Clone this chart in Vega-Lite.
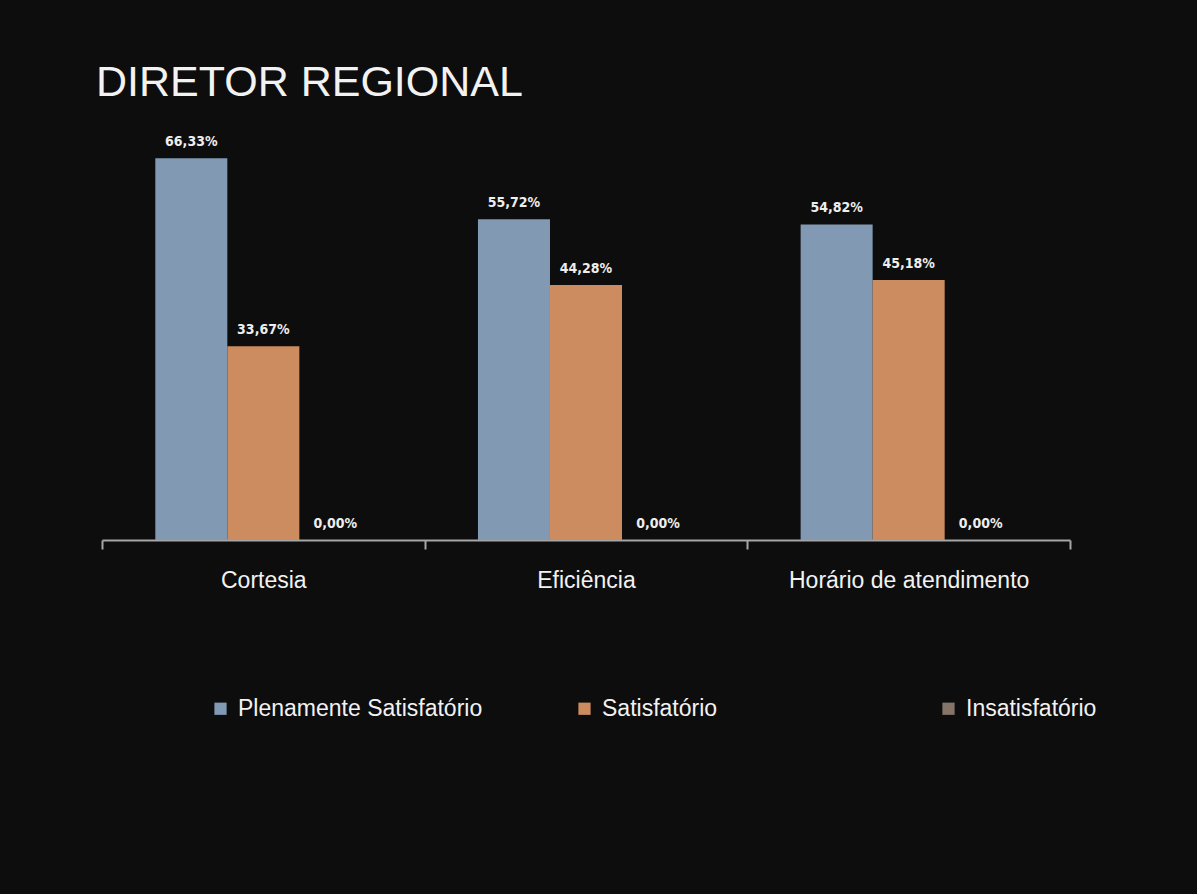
{
  "$schema": "https://vega.github.io/schema/vega-lite/v6.json",
  "background": "#0d0d0d",
  "padding": {"left": 96, "top": 62, "right": 127, "bottom": 173},
  "width": 968,
  "height": 403,
  "title": {
    "text": "DIRETOR REGIONAL",
    "anchor": "start",
    "font": "Liberation Sans",
    "fontSize": 43,
    "fontWeight": "normal",
    "color": "#f2f2f2",
    "dx": -5,
    "offset": 30
  },
  "config": {
    "locale": {"number": {"decimal": ",", "thousands": ".", "grouping": [3], "currency": ["R$", ""]}},
    "view": {"stroke": null},
    "font": "Liberation Sans"
  },
  "data": {
    "values": [
      {"categoria": "Cortesia", "nivel": "Plenamente Satisfatório", "valor": 0.6633},
      {"categoria": "Cortesia", "nivel": "Satisfatório", "valor": 0.3367},
      {"categoria": "Cortesia", "nivel": "Insatisfatório", "valor": 0.0},
      {"categoria": "Eficiência", "nivel": "Plenamente Satisfatório", "valor": 0.5572},
      {"categoria": "Eficiência", "nivel": "Satisfatório", "valor": 0.4428},
      {"categoria": "Eficiência", "nivel": "Insatisfatório", "valor": 0.0},
      {"categoria": "Horário de atendimento", "nivel": "Plenamente Satisfatório", "valor": 0.5482},
      {"categoria": "Horário de atendimento", "nivel": "Satisfatório", "valor": 0.4518},
      {"categoria": "Horário de atendimento", "nivel": "Insatisfatório", "valor": 0.0}
    ]
  },
  "encoding": {
    "x": {
      "field": "categoria",
      "type": "nominal",
      "sort": ["Cortesia", "Eficiência", "Horário de atendimento"],
      "scale": {"paddingInner": 0, "paddingOuter": 0},
      "axis": {
        "title": null,
        "labelAngle": 0,
        "labelFont": "Liberation Sans",
        "labelFontSize": 23,
        "labelColor": "#f2f2f2",
        "labelPadding": 20,
        "labelLimit": 400,
        "tickBand": "extent",
        "tickSize": 9,
        "tickColor": "#a6a6a6",
        "tickWidth": 2,
        "domainColor": "#a6a6a6",
        "domainWidth": 2,
        "grid": false
      }
    },
    "xOffset": {
      "field": "nivel",
      "type": "nominal",
      "sort": ["Plenamente Satisfatório", "Satisfatório", "Insatisfatório"],
      "scale": {"paddingInner": 0, "paddingOuter": 0.74}
    },
    "y": {
      "field": "valor",
      "type": "quantitative",
      "scale": {"domain": [0, 0.7], "nice": false},
      "axis": null
    }
  },
  "layer": [
    {
      "mark": {"type": "bar"},
      "encoding": {
        "color": {
          "field": "nivel",
          "type": "nominal",
          "sort": ["Plenamente Satisfatório", "Satisfatório", "Insatisfatório"],
          "scale": {
            "domain": ["Plenamente Satisfatório", "Satisfatório", "Insatisfatório"],
            "range": ["#8199b3", "#cd8c5f", "#857569"]
          },
          "legend": {
            "title": null,
            "orient": "none",
            "direction": "horizontal",
            "legendX": 107,
            "legendY": 560,
            "symbolType": "square",
            "symbolSize": 150,
            "symbolStrokeWidth": 0,
            "symbolOpacity": 1,
            "labelFont": "Liberation Sans",
            "labelFontSize": 23,
            "labelColor": "#f2f2f2",
            "labelOffset": 6,
            "labelLimit": 400,
            "gridAlign": "all",
            "columnPadding": 90
          }
        }
      }
    },
    {
      "mark": {
        "type": "text",
        "baseline": "bottom",
        "dy": -9,
        "font": "Liberation Sans Narrow, DejaVu Sans Condensed, sans-serif",
        "fontWeight": "bold",
        "fontSize": 14,
        "color": "#eeeeee"
      },
      "encoding": {
        "text": {"field": "valor", "type": "quantitative", "format": ".2%"}
      }
    }
  ]
}
